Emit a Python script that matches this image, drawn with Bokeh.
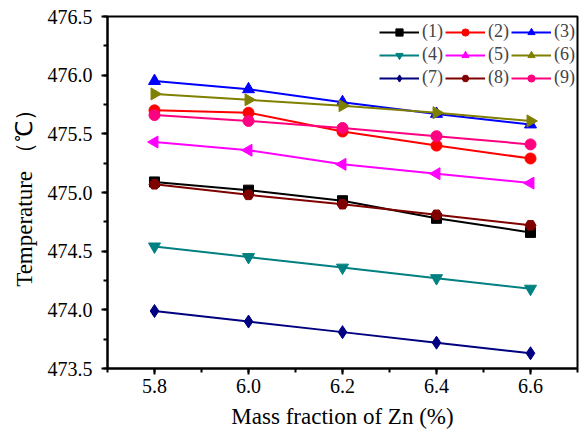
import math
from bokeh.plotting import figure
from bokeh.models import (Legend, LegendItem, Range1d, SingleIntervalTicker,
                          NumeralTickFormatter)
from bokeh.embed import file_html
from bokeh.resources import INLINE

zn = [5.8, 6.0, 6.2, 6.4, 6.6]
s1 = [475.09, 475.02, 474.93, 474.78, 474.66]
s2 = [475.70, 475.68, 475.52, 475.40, 475.29]
s3 = [475.95, 475.88, 475.77, 475.67, 475.58]
s4 = [474.54, 474.45, 474.36, 474.27, 474.18]
s5 = [475.43, 475.36, 475.24, 475.16, 475.08]
s6 = [475.84, 475.79, 475.74, 475.68, 475.61]
s7 = [473.99, 473.90, 473.81, 473.72, 473.63]
s8 = [475.07, 474.98, 474.90, 474.81, 474.72]
s9 = [475.66, 475.61, 475.55, 475.48, 475.41]
labels = ["(1)", "(2)", "(3)", "(4)", "(5)", "(6)", "(7)", "(8)", "(9)"]
series = [s1, s2, s3, s4, s5, s6, s7, s8, s9]

colors = ["#000000", "#FF0000", "#0000FF", "#008080", "#FF00FF",
          "#808000", "#000080", "#800000", "#FF0080"]
markers = ["square", "circle", "triangle", "inverted_triangle", "triangle",
           "triangle", "diamond", "hex", "circle"]
angles = [0, 0, 0, 0, math.pi / 2, -math.pi / 2, 0, 0, 0]
sizes = [10, 11, 12, 12, 12, 12, 13, 11, 11]

FONT = "'Liberation Serif', 'Times New Roman', serif"

p = figure(width=579, height=433, output_backend="svg", toolbar_location=None,
           x_range=Range1d(5.7, 6.7), y_range=Range1d(473.5, 476.5),
           min_border_left=107, min_border_right=2, min_border_top=16,
           min_border_bottom=65)
p.grid.visible = False
p.outline_line_color = "black"
p.outline_line_width = 2
p.background_fill_color = "white"
p.border_fill_color = "white"

items = []
for ys, lab, c, m, a, s in zip(series, labels, colors, markers, angles, sizes):
    r1 = p.line(zn, ys, line_color=c, line_width=2)
    r2 = p.scatter(zn, ys, marker=m, angle=a, size=s, fill_color=c, line_color=c)
    items.append(LegendItem(label=lab, renderers=[r1, r2]))

legend = Legend(items=items, orientation="horizontal", ncols=3,
                location=(272, 280), border_line_color=None,
                background_fill_alpha=0, label_text_font=FONT,
                label_text_font_size="18px", glyph_width=40,
                glyph_height=18, spacing=2, label_standoff=3,
                padding=0, margin=0, label_height=18)
p.add_layout(legend, "center")

p.xaxis.ticker = SingleIntervalTicker(interval=0.2, num_minor_ticks=2)
p.yaxis.ticker = SingleIntervalTicker(interval=0.5, num_minor_ticks=2)
p.xaxis.formatter = NumeralTickFormatter(format="0.0")
p.yaxis.formatter = NumeralTickFormatter(format="0.0")

for ax in (p.xaxis, p.yaxis):
    ax.axis_line_width = 2
    ax.major_tick_line_width = 2
    ax.minor_tick_line_width = 2
    ax.major_tick_out = 6
    ax.major_tick_in = 0
    ax.minor_tick_out = 4
    ax.minor_tick_in = 0
    ax.major_label_text_font = FONT
    ax.major_label_text_font_size = "20px"
    ax.major_label_text_color = "black"
    ax.axis_label_text_font = FONT
    ax.axis_label_text_font_size = "23px"
    ax.axis_label_text_font_style = "normal"
    ax.axis_label_text_color = "black"

p.xaxis.axis_label = "Mass fraction of Zn (%)"
p.yaxis.axis_label = "Temperature \uff08\u2103\uff09"
p.xaxis.major_label_standoff = 4
p.yaxis.major_label_standoff = 9
p.xaxis.axis_label_standoff = 8
p.yaxis.axis_label_standoff = 8

open("out.html", "w").write(file_html(p, INLINE))
